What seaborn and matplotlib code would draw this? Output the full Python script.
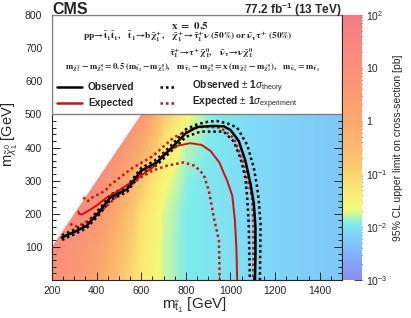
import numpy as np
import pandas as pd
import matplotlib
matplotlib.use('Agg')
import matplotlib.pyplot as plt
import seaborn as sns
from matplotlib.colors import LinearSegmentedColormap, LogNorm, Normalize
from matplotlib.patches import Polygon, Rectangle
from matplotlib.ticker import MultipleLocator, FixedLocator, FixedFormatter, LogLocator, NullFormatter

sns.set_style('ticks')
plt.rcParams['font.family'] = ['Liberation Sans', 'DejaVu Sans']
plt.rcParams['mathtext.fontset'] = 'custom'
plt.rcParams['mathtext.rm'] = 'Liberation Sans'
plt.rcParams['mathtext.it'] = 'Liberation Sans:italic'
plt.rcParams['mathtext.bf'] = 'Liberation Sans:bold'

# grid of the cross-section limit (log10 of pb), rows = LSP mass, cols = stop mass
stop_mass = [200, 300, 400, 500, 600, 700, 800, 900, 1000, 1100, 1200, 1300, 1400, 1500]
lsp_mass = [0, 100, 200, 300, 400, 500, 600, 700, 800]
log_limit = [
    [0.9, 0.6, 0.1, -0.7, -1.35, -1.75, -1.95, -2.0, -2.05, -2.1, -2.15, -2.2, -2.25, -2.3],
    [1.2, 0.8, 0.3, -0.5, -1.3, -1.75, -1.95, -2.0, -2.05, -2.1, -2.15, -2.2, -2.25, -2.3],
    [1.4, 1.2, 0.8, -0.2, -1.2, -1.72, -1.95, -2.0, -2.05, -2.1, -2.15, -2.2, -2.25, -2.3],
    [1.5, 1.4, 1.2, 0.3, -0.8, -1.6, -1.9, -2.0, -2.05, -2.1, -2.15, -2.2, -2.25, -2.3],
    [1.5, 1.5, 1.4, 0.9, -0.1, -1.3, -1.8, -1.95, -2.05, -2.1, -2.15, -2.2, -2.25, -2.3],
    [1.5, 1.5, 1.5, 1.3, 0.7, -0.8, -1.6, -1.9, -2.0, -2.1, -2.15, -2.2, -2.25, -2.3],
    [1.5, 1.5, 1.5, 1.5, 1.2, 0.1, -1.3, -1.85, -2.0, -2.1, -2.15, -2.2, -2.25, -2.3],
    [1.5, 1.5, 1.5, 1.5, 1.4, 0.7, -0.6, -1.7, -1.95, -2.05, -2.15, -2.2, -2.25, -2.3],
    [1.5, 1.5, 1.5, 1.5, 1.5, 1.1, 0.2, -1.3, -1.9, -2.05, -2.15, -2.2, -2.25, -2.3],
]
dm_min = 100  # kinematic edge: m_lsp < m_stop - dm_min

# exclusion contours
obs_x = [243, 300, 356, 416, 461, 536, 600, 670, 745, 800, 850, 920, 970, 1000, 1037, 1067, 1090, 1105, 1112, 1112, 1110]
obs_y = [128, 145, 164, 209, 249, 274, 330, 355, 405, 443, 462, 465, 464, 453, 420, 360, 290, 230, 160, 80, 0]
obs_up_x = [245, 300, 356, 416, 461, 536, 600, 670, 745, 800, 850, 900, 940, 990, 1030, 1075, 1105, 1120, 1127, 1135, 1132]
obs_up_y = [135, 152, 172, 217, 257, 283, 338, 364, 414, 455, 470, 478, 480, 472, 460, 408, 338, 279, 239, 169, 0]
obs_dn_x = [245, 300, 356, 416, 461, 536, 600, 670, 745, 800, 865, 970, 1015, 1045, 1067, 1075, 1082, 1087]
obs_dn_y = [121, 138, 157, 201, 241, 266, 322, 347, 396, 432, 448, 448, 418, 368, 308, 250, 169, 0]
exp_x = [318, 322, 335, 371, 400, 446, 500, 565, 620, 655, 700, 760, 820, 870, 910, 950, 985, 1008, 1020, 1027, 1030]
exp_y = [207, 199, 198, 212, 225, 249, 270, 300, 325, 342, 380, 405, 413, 408, 390, 355, 300, 255, 180, 90, 0]
exp_up_x = [342, 350, 360, 380, 440, 455, 560, 650, 745, 820, 880, 955, 1015, 1060, 1082, 1097, 1103, 1102]
exp_up_y = [250, 240, 238, 249, 270, 284, 338, 373, 430, 455, 463, 460, 428, 350, 290, 250, 170, 0]
exp_dn_x = [282, 300, 315, 350, 395, 455, 500, 550, 595, 650, 715, 790, 840, 880, 903, 925, 948, 952]
exp_dn_y = [170, 162, 162, 174, 194, 229, 259, 285, 308, 330, 345, 355, 345, 318, 270, 190, 120, 0]

palette = LinearSegmentedColormap.from_list('pal', [
    (0.00, '#8c8cf0'), (0.10, '#80b4fa'), (0.17, '#7fd6f8'), (0.21, '#80eced'),
    (0.24, '#bdf5ad'), (0.27, '#f6f878'), (0.35, '#fbe474'), (0.44, '#fbc66e'),
    (0.60, '#fba86c'), (0.80, '#fa907a'), (1.00, '#f47c86')])

fig = plt.figure(figsize=(4.11, 3.18), dpi=100)
ax = fig.add_axes([0.1265, 0.1195, 0.7056, 0.8333])
cax = fig.add_axes([0.8345, 0.1195, 0.046, 0.8333])

step_x = stop_mass[1] - stop_mass[0]
step_y = lsp_mass[1] - lsp_mass[0]
img = ax.imshow(np.array(log_limit), origin='lower', cmap=palette, norm=Normalize(-3, 2),
                extent=(stop_mass[0] - step_x / 2, stop_mass[-1] + step_x / 2,
                        lsp_mass[0] - step_y / 2, lsp_mass[-1] + step_y / 2),
                interpolation='bilinear', interpolation_stage='data', aspect='auto', zorder=0)
edge = Polygon([(stop_mass[0], 0), (stop_mass[0], stop_mass[0] - dm_min),
                (lsp_mass[-1] + dm_min, lsp_mass[-1]), (stop_mass[-1], lsp_mass[-1]),
                (stop_mass[-1], 0)], closed=True, transform=ax.transData)
img.set_clip_path(edge)

dots = (0, (1, 1.2))
curves = [
    (obs_up_x, obs_up_y, 'black', 1.8, dots),
    (obs_dn_x, obs_dn_y, 'black', 1.8, dots),
    (exp_up_x, exp_up_y, '#d01010', 1.8, dots),
    (exp_dn_x, exp_dn_y, '#d01010', 1.8, dots),
    (exp_x, exp_y, '#d01010', 1.4, '-'),
    (obs_x, obs_y, 'black', 1.8, '-'),
]
for cx, cy, col, lw, ls in curves:
    d = pd.DataFrame({'m_stop': cx, 'm_lsp': cy})
    sns.lineplot(data=d, x='m_stop', y='m_lsp', sort=False, estimator=None, ax=ax,
                 color=col, linewidth=lw, linestyle=ls, zorder=3)

ax.set_xlim(200, 1500)
ax.set_ylim(0, 800)
ax.set_xlabel('')
ax.set_ylabel('')
ax.xaxis.set_major_locator(MultipleLocator(200))
ax.xaxis.set_minor_locator(MultipleLocator(50))
ax.yaxis.set_major_locator(FixedLocator([0, 100, 200, 300, 400, 500, 600, 700, 800]))
ax.yaxis.set_major_formatter(FixedFormatter(['', '100', '200', '300', '400', '500', '600', '700', '800']))
ax.yaxis.set_minor_locator(MultipleLocator(20))
ax.tick_params(which='both', direction='in', top=True, right=True, labelsize=7.5, width=0.7)
ax.tick_params(which='major', length=6)
ax.tick_params(which='minor', length=3)
ax.tick_params(axis='x', pad=4)
ax.tick_params(axis='y', pad=7)
for sp in ax.spines.values():
    sp.set_linewidth(0.8)

# legend box
box = Rectangle((0, 500 / 800), 1, 300 / 800, transform=ax.transAxes, facecolor='white',
                edgecolor='#808080', linewidth=1.0, zorder=5)
ax.add_patch(box)

serif = dict(math_fontfamily='stix', ha='center', va='center', transform=ax.transAxes, zorder=6)
ax.text(0.475, 0.962, r'$\mathbf{x\ =\ 0.5}$', fontsize=8, **serif)
ax.text(0.47, 0.918, r'$\mathbf{pp\!\rightarrow\!\tilde{t}_{1}\tilde{t}_{1},\quad\tilde{t}_{1}\!\rightarrow\!b\tilde{\chi}^{+}_{1},\quad'
        r'\tilde{\chi}^{+}_{1}\!\rightarrow\!\tilde{\tau}^{+}_{1}\nu\ (50\%)\ or\ \tilde{\nu}_{\tau}\tau^{+}\ (50\%)}$',
        fontsize=6.8, **serif)
ax.text(0.55, 0.855, r'$\mathbf{\tilde{\tau}^{+}_{1}\!\rightarrow\!\tau^{+}\tilde{\chi}^{0}_{1},\quad\tilde{\nu}_{\tau}\!\rightarrow\!\nu\tilde{\chi}^{0}_{1}}$',
        fontsize=6.8, **serif)
ax.text(0.485, 0.80, r'$\mathbf{m_{\tilde{\chi}^{\pm}_{1}}-m_{\tilde{\chi}^{0}_{1}}=0.5\ (m_{\tilde{t}_{1}}-m_{\tilde{\chi}^{0}_{1}}),\quad'
        r'm_{\tilde{\tau}_{1}}-m_{\tilde{\chi}^{0}_{1}}=x\ (m_{\tilde{\chi}^{\pm}_{1}}-m_{\tilde{\chi}^{0}_{1}}),\quad m_{\tilde{\nu}_{\tau}}=m_{\tilde{\tau}_{1}}}$',
        fontsize=6.3, **serif)

leg_rows = [
    (0.728, 'black', 'Observed', r'Observed $\pm$ 1$\sigma_{\mathrm{theory}}$'),
    (0.668, '#d01010', 'Expected', r'Expected $\pm$ 1$\sigma_{\mathrm{experiment}}$'),
]
for ly, col, lab1, lab2 in leg_rows:
    ax.plot([0.017, 0.103], [ly, ly], color=col, lw=1.8, transform=ax.transAxes, zorder=6)
    ax.plot([0.372, 0.428], [ly, ly], color=col, lw=1.8, ls=dots, transform=ax.transAxes, zorder=6)
    ax.text(0.124, ly, lab1, fontsize=7.3, fontweight='bold', va='center', transform=ax.transAxes, zorder=6)
    ax.text(0.483, ly, lab2, fontsize=7.3, fontweight='bold', va='center', transform=ax.transAxes, zorder=6)

# colour bar
sm = plt.cm.ScalarMappable(norm=LogNorm(1e-3, 1e2), cmap=palette)
cb = fig.colorbar(sm, cax=cax)
cb.outline.set_visible(False)
cax.yaxis.set_major_locator(FixedLocator([1e-3, 1e-2, 1e-1, 1, 10, 100]))
cax.yaxis.set_major_formatter(FixedFormatter([r'$10^{-3}$', r'$10^{-2}$', r'$10^{-1}$', '1', '10', r'$10^{2}$']))
cax.yaxis.set_minor_locator(LogLocator(base=10, subs=np.arange(2, 10)))
cax.yaxis.set_minor_formatter(NullFormatter())
cax.tick_params(which='both', direction='in', right=True, left=False, labelsize=7.5, width=0.6, pad=3)
cax.tick_params(which='major', length=6)
cax.tick_params(which='minor', length=3)
cax.set_ylabel('95% CL upper limit on cross-section [pb]', fontsize=7.5, labelpad=4)

fig.text(0.1265, 0.955, 'CMS', fontsize=11.5, fontweight='bold', ha='left', va='baseline')
fig.text(0.832, 0.957, r'77.2 fb$^{\mathbf{-1}}$ (13 TeV)', fontsize=8.5, fontweight='bold', ha='right', va='baseline')
fig.text(0.395, 0.028, r'm$_{\tilde{\mathrm{t}}_{1}}$ [GeV]', fontsize=11, ha='left', va='baseline')
fig.text(0.0, 0.68, r'm$_{\tilde{\chi}^{0}_{1}}$ [GeV]', fontsize=10.5, rotation=90, ha='left', va='top')

fig.savefig('out.png', dpi=100)
